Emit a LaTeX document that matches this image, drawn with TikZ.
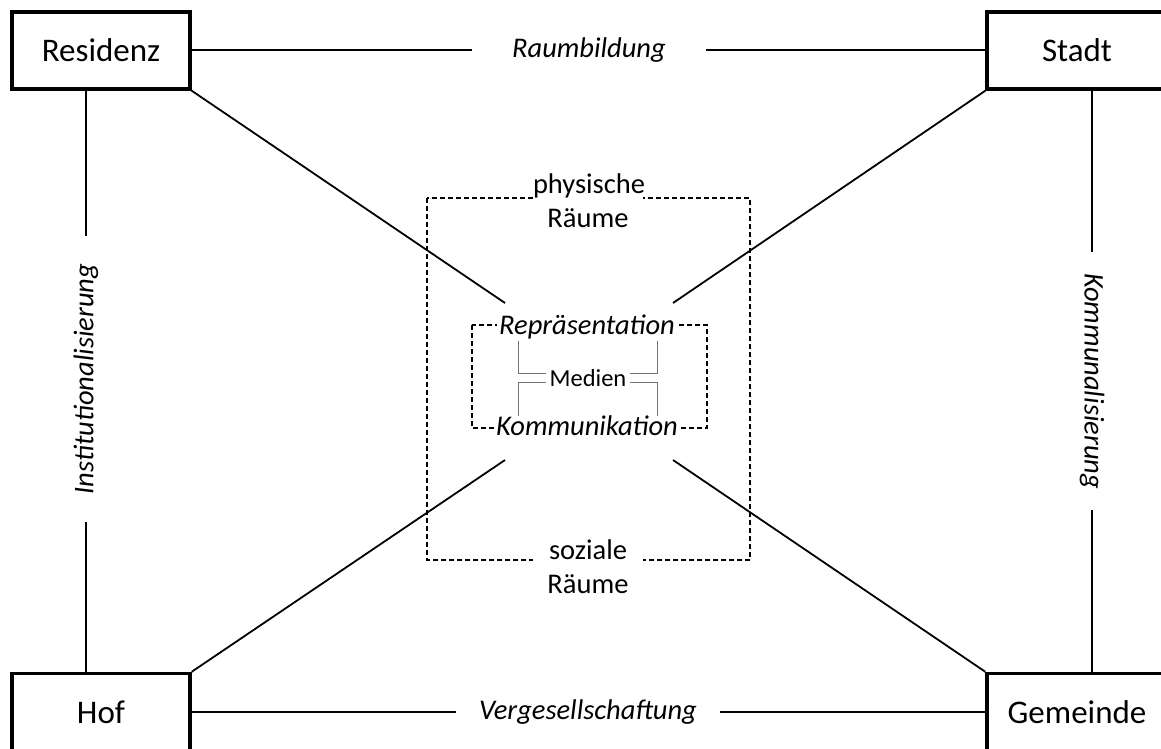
\documentclass[tikz,border=0pt]{standalone}
\usepackage{fontspec}
\setmainfont{Carlito}
\usetikzlibrary{calc}
\tikzset{
  boxnode/.style={draw, line width=3.5pt, minimum width=178pt, minimum height=77pt, inner sep=0pt, font=\fontsize{33}{40}\selectfont},
  conn/.style={line width=1.8pt},
  lbl/.style={font=\fontsize{28.5}{34}\selectfont\itshape, inner ysep=0pt},
  space/.style={font=\fontsize{28.5}{34}\selectfont, align=center, fill=white, inner sep=0pt, text width=110pt},
  dashbox/.style={line width=1.2pt, dash pattern=on 5pt off 3pt},
  key/.style={font=\fontsize{28.5}{34}\selectfont\itshape, fill=white, inner xsep=2pt, inner ysep=0pt},
  medline/.style={line width=1.5pt, draw=black!55},
}
\begin{document}
\begin{tikzpicture}[x=1pt,y=-1pt]
\useasboundingbox (0,0) rectangle (1161,748);
\clip (0,0) rectangle (1161,748);
% dashed boxes
\draw[dashbox] (427,198) rectangle (750,560);
\draw[dashbox] (472,325) rectangle (707,428);
% corner boxes
\node[boxnode] (res) at (101,50.5) {Residenz};
\node[boxnode, minimum width=190pt] (stadt) at (1082,50.5) {\hspace*{-10pt}Stadt};
\node[boxnode] (hof) at (101,712) {Hof};
\node[boxnode, minimum width=190pt] (gem) at (1082,712) {\hspace*{-10pt}Gemeinde};
% side labels
\node[lbl, inner xsep=40pt] (raum) at (589,50) {Raumbildung};
\node[lbl, inner xsep=23pt] (verg) at (588,712) {Vergesellschaftung};
\node[lbl, inner xsep=28pt, rotate=90] (inst) at (86,379) {Institutionalisierung};
\node[lbl, inner xsep=21pt, rotate=-90] (komm) at (1092,381) {Kommunalisierung};
\draw[conn] (res.east |- raum) -- (raum) -- (stadt.west |- raum);
\draw[conn] (hof.east |- verg) -- (verg) -- (gem.west |- verg);
\draw[conn] (inst |- res.south) -- (inst) -- (inst |- hof.north);
\draw[conn] (komm |- stadt.south) -- (komm) -- (komm |- gem.north);
% centre labels
\node[space] (phys) at (588,201) {physische\\Räume};
\node[space] (soz) at (588,567) {soziale\\Räume};
\node[key] (rep) at (587,327) {Repräsentation};
\node[key] (kom) at (587,426) {Kommunikation};
\node[font=\fontsize{24.5}{29}\selectfont, inner xsep=3pt] (med) at (588,378) {Medien};
% diagonal connectors
\coordinate (repL) at (505,303);
\coordinate (repR) at (673,303);
\coordinate (komL) at (505,460);
\coordinate (komR) at (673,460);
\draw[conn] (res.south east) -- (repL);
\draw[conn] (stadt.south west) -- (repR);
\draw[conn] (hof.north east) -- (komL);
\draw[conn] (gem.north west) -- (komR);
% Medien brackets
\draw[medline] ($(med.west)+(0,-4.5)$) -- ++(-28,0) -- ++(0,-33);
\draw[medline] ($(med.west)+(0,4.5)$) -- ++(-28,0) -- ++(0,33);
\draw[medline] ($(med.east)+(0,-4.5)$) -- ++(28,0) -- ++(0,-33);
\draw[medline] ($(med.east)+(0,4.5)$) -- ++(28,0) -- ++(0,33);
\end{tikzpicture}
\end{document}
